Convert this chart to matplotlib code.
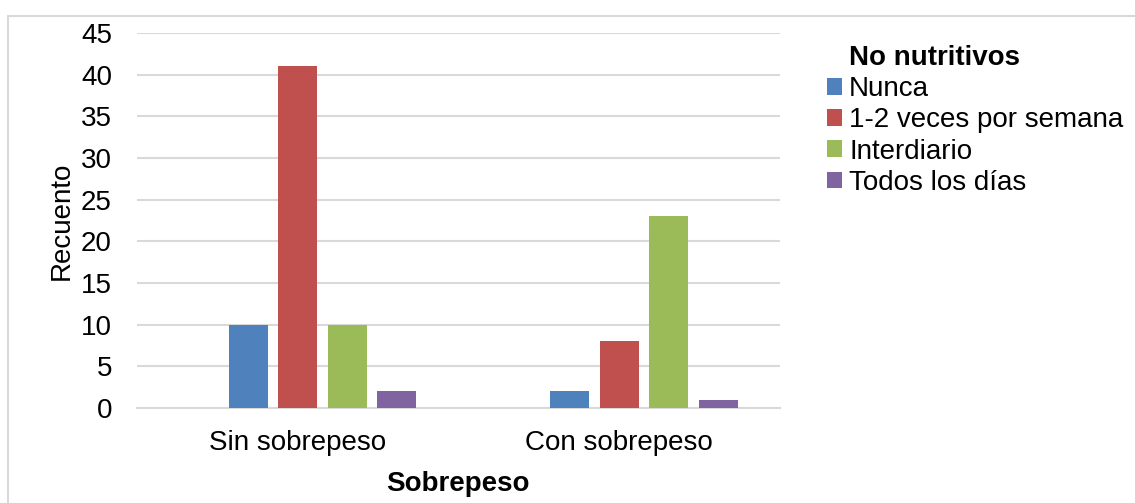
import matplotlib
matplotlib.use("Agg")
import matplotlib.pyplot as plt
from matplotlib.patches import Rectangle, Patch
import numpy as np

plt.rcParams['font.family'] = ['Liberation Sans', 'DejaVu Sans']

categories = ["Sin sobrepeso", "Con sobrepeso"]
series_names = ["Nunca", "1-2 veces por semana", "Interdiario", "Todos los días"]
nunca = [10, 2]
veces_1_2 = [41, 8]
interdiario = [10, 23]
todos_dias = [2, 1]
colors = ["#4f81bd", "#c0504d", "#9bbb59", "#8064a2"]
yticks = list(range(0, 50, 5))

W, H = 1135, 503
FS = 20
fig = plt.figure(figsize=(W / 100, H / 100), dpi=100)

# outer chart frame (left and top edges visible)
fig.patches.append(Rectangle((8 / W, -0.1), 1.2, 1.1 - 16 / H,
                             transform=fig.transFigure, fill=False,
                             edgecolor="#d9d9d9", linewidth=1.5, zorder=0))

ax = fig.add_axes([137 / W, 1 - 408 / H, (780 - 137) / W, (408 - 33) / H])

x = np.arange(len(categories))
slot = 49.5 / 321.5
width = 39 / 321.5
series = [nunca, veces_1_2, interdiario, todos_dias]
# five slots per cluster; the first one is left empty
for i, (vals, c) in enumerate(zip(series, colors)):
    offs = (i + 1 - 2) * slot
    ax.bar(x + offs, vals, width=width, color=c, zorder=3)

ax.set_xlim(-0.5, 1.5)
ax.set_ylim(0, 45)
ax.set_yticks(yticks)
ax.yaxis.grid(True, color="#d9d9d9", linewidth=1.5, zorder=0)
ax.set_axisbelow(True)
for s in ["top", "right", "left"]:
    ax.spines[s].set_visible(False)
ax.spines["bottom"].set_color("#d9d9d9")
ax.spines["bottom"].set_linewidth(1.5)
ax.tick_params(axis="both", length=0, labelsize=FS)
ax.tick_params(axis="y", pad=18)
ax.tick_params(axis="x", pad=16)
ax.set_xticks(x)
ax.set_xticklabels(categories)

fig.text(62 / W, 1 - 221 / H, "Recuento", rotation=90, ha="center", va="center", fontsize=FS)
fig.text(458 / W, 1 - 484 / H, "Sobrepeso", ha="center", va="center", fontsize=FS, fontweight="bold")

fig.text(849 / W, 1 - 58 / H, "No nutritivos", ha="left", va="center",
         fontsize=FS, fontweight="bold")
handles = [Patch(facecolor=c, edgecolor="none") for c in colors]
leg = fig.legend(handles, series_names, loc="upper left",
                 bbox_to_anchor=(827 / W, 1 - 76 / H), frameon=False, fontsize=FS,
                 handlelength=0.55, handleheight=0.55, handletextpad=0.25,
                 labelspacing=0.19, borderaxespad=0, borderpad=0)

fig.savefig("out.png", dpi=100)
